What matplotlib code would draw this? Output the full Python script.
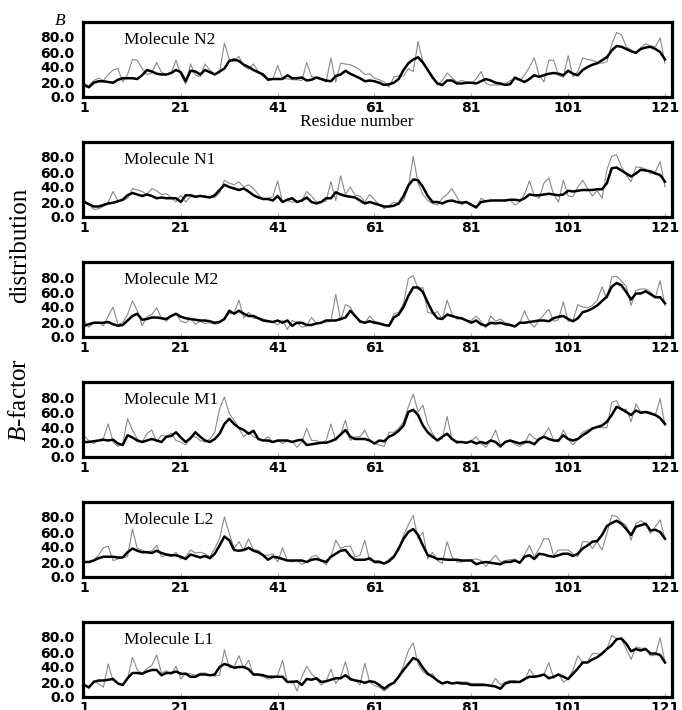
import numpy as np
import matplotlib
matplotlib.use('Agg')
import matplotlib.pyplot as plt

plt.rcParams['mathtext.fontset'] = 'custom'
plt.rcParams['mathtext.rm'] = 'Liberation Serif'
plt.rcParams['mathtext.it'] = 'Liberation Serif:italic'

residues = np.arange(1, 122)
xtick_vals = [1, 21, 41, 61, 81, 101, 121]
ytick_vals = [0, 20, 40, 60, 80]
ytick_labels = ['0.0', '20.0', '40.0', '60.0', '80.0']
molecules = ['N2', 'N1', 'M2', 'M1', 'L2', 'L1']

n2_main = [16, 13, 19, 21, 21, 20, 19, 23, 25, 25,
           25, 24, 29, 36, 34, 31, 30, 30, 32, 36,
           33, 21, 35, 34, 30, 36, 33, 30, 34, 38,
           48, 50, 48, 43, 40, 36, 33, 30, 23, 24,
           24, 24, 29, 25, 25, 26, 22, 23, 26, 24,
           22, 21, 28, 30, 35, 31, 28, 25, 21, 22,
           21, 19, 16, 17, 19, 24, 36, 45, 50, 53,
           46, 36, 26, 18, 16, 22, 22, 18, 18, 19,
           19, 18, 21, 24, 22, 19, 18, 16, 17, 26,
           23, 20, 24, 29, 27, 29, 31, 32, 31, 29,
           35, 31, 29, 36, 40, 43, 45, 49, 53, 62,
           68, 67, 64, 61, 59, 64, 66, 67, 64, 60,
           50]
n2_side = [18, 15, 22, 25, 22, 30, 36, 38, 20, 30,
           50, 49, 38, 30, 32, 46, 33, 30, 32, 49,
           30, 17, 44, 29, 27, 44, 36, 31, 32, 72,
           50, 47, 54, 41, 37, 44, 34, 27, 25, 24,
           42, 25, 24, 23, 23, 22, 46, 27, 26, 23,
           20, 52, 20, 45, 44, 43, 40, 36, 30, 31,
           25, 23, 20, 13, 27, 28, 28, 38, 34, 74,
           47, 36, 28, 16, 22, 32, 26, 20, 22, 20,
           18, 24, 34, 18, 16, 16, 16, 17, 22, 24,
           22, 29, 40, 52, 29, 20, 49, 49, 29, 26,
           55, 27, 34, 52, 50, 49, 46, 45, 47, 70,
           86, 83, 67, 63, 58, 66, 71, 68, 67, 79,
           45]

n1_main = [20, 17, 14, 14, 16, 18, 19, 21, 23, 29,
           32, 30, 28, 30, 28, 25, 26, 25, 25, 25,
           20, 29, 29, 27, 28, 27, 26, 29, 36, 43,
           40, 38, 36, 38, 34, 29, 26, 24, 24, 22,
           28, 20, 23, 25, 20, 22, 26, 20, 18, 20,
           25, 25, 33, 30, 28, 27, 26, 22, 18, 20,
           18, 16, 14, 14, 15, 18, 28, 42, 50, 49,
           40, 28, 20, 20, 18, 21, 22, 20, 19, 20,
           16, 13, 20, 21, 22, 22, 22, 22, 23, 23,
           22, 25, 30, 29, 29, 30, 31, 30, 29, 30,
           35, 34, 35, 36, 36, 36, 37, 37, 45, 65,
           66, 62, 58, 54, 58, 63, 62, 61, 58, 56,
           47]
n1_side = [22, 18, 10, 11, 14, 20, 34, 22, 22, 25,
           38, 36, 34, 30, 38, 35, 30, 31, 26, 20,
           29, 20, 27, 27, 29, 28, 26, 26, 32, 49,
           45, 43, 47, 40, 43, 38, 30, 23, 25, 27,
           48, 20, 22, 20, 20, 22, 34, 28, 20, 20,
           21, 47, 22, 55, 30, 40, 29, 28, 20, 30,
           23, 16, 11, 15, 20, 18, 22, 40, 81, 45,
           30, 22, 18, 16, 25, 30, 38, 27, 16, 20,
           18, 11, 25, 21, 22, 22, 22, 23, 23, 16,
           20, 30, 48, 29, 25, 45, 52, 30, 20, 49,
           28, 27, 40, 49, 38, 28, 35, 25, 63, 81,
           83, 67, 56, 47, 67, 66, 64, 58, 60, 74,
           40]

m2_main = [15, 17, 19, 19, 19, 20, 17, 15, 16, 22,
           28, 31, 23, 24, 26, 26, 25, 24, 28, 31,
           27, 25, 24, 23, 22, 22, 21, 19, 20, 24,
           35, 31, 35, 31, 28, 28, 25, 22, 21, 20,
           22, 19, 22, 15, 19, 19, 16, 16, 18, 19,
           22, 22, 22, 24, 26, 35, 28, 21, 19, 21,
           19, 18, 16, 15, 26, 30, 40, 55, 66, 66,
           60, 46, 33, 25, 24, 30, 28, 26, 25, 22,
           19, 22, 17, 15, 19, 18, 19, 17, 16, 14,
           19, 19, 20, 21, 22, 22, 21, 25, 27, 28,
           24, 21, 25, 33, 35, 38, 42, 48, 54, 67,
           72, 69, 60, 50, 58, 58, 61, 57, 53, 53,
           45]
m2_side = [22, 13, 19, 20, 15, 28, 40, 17, 19, 30,
           48, 35, 15, 27, 30, 39, 25, 21, 28, 31,
           21, 19, 24, 17, 21, 18, 19, 17, 19, 25,
           31, 32, 49, 25, 33, 25, 25, 24, 22, 20,
           16, 22, 10, 22, 19, 13, 15, 26, 18, 19,
           20, 21, 57, 22, 43, 40, 28, 19, 19, 28,
           21, 19, 17, 15, 31, 33, 45, 78, 82, 64,
           66, 33, 31, 34, 24, 49, 31, 24, 24, 22,
           22, 28, 21, 12, 28, 21, 24, 19, 17, 15,
           19, 35, 20, 13, 22, 30, 37, 21, 23, 47,
           21, 22, 43, 40, 39, 42, 49, 67, 51, 80,
           81, 75, 67, 42, 62, 64, 64, 60, 53, 75,
           42]

m1_main = [20, 20, 21, 22, 23, 22, 23, 18, 16, 29,
           26, 22, 20, 22, 24, 22, 20, 27, 28, 33,
           26, 20, 25, 33, 27, 22, 20, 24, 31, 44,
           51, 44, 39, 36, 31, 35, 24, 22, 22, 20,
           22, 22, 22, 20, 22, 23, 16, 17, 18, 19,
           19, 21, 24, 30, 36, 27, 24, 24, 24, 22,
           18, 22, 21, 27, 30, 35, 42, 60, 63, 56,
           42, 33, 27, 22, 27, 31, 24, 20, 20, 19,
           21, 18, 20, 18, 22, 20, 14, 20, 22, 20,
           18, 20, 20, 17, 24, 27, 24, 22, 22, 29,
           24, 22, 24, 29, 33, 38, 40, 42, 47, 56,
           67, 64, 60, 56, 62, 59, 60, 58, 56, 52,
           44]
m1_side = [28, 22, 18, 22, 25, 44, 20, 14, 18, 51,
           36, 24, 20, 31, 36, 20, 29, 27, 32, 22,
           20, 16, 27, 27, 22, 20, 24, 33, 64, 80,
           58, 49, 38, 27, 33, 27, 24, 22, 27, 20,
           22, 18, 22, 21, 13, 20, 38, 22, 22, 18,
           22, 44, 22, 30, 49, 22, 27, 27, 36, 22,
           18, 16, 14, 33, 33, 38, 47, 67, 84, 60,
           69, 44, 31, 22, 24, 54, 24, 18, 20, 18,
           22, 27, 18, 13, 22, 36, 16, 20, 22, 17,
           14, 18, 31, 25, 22, 29, 39, 22, 20, 36,
           24, 16, 24, 33, 36, 38, 40, 39, 39, 73,
           75, 62, 64, 47, 71, 60, 61, 60, 56, 78,
           42]

l2_main = [20, 20, 22, 25, 27, 27, 27, 26, 26, 33,
           38, 35, 33, 33, 32, 35, 32, 30, 29, 29,
           27, 24, 30, 28, 26, 28, 25, 31, 42, 54,
           49, 36, 35, 36, 39, 35, 33, 29, 23, 27,
           26, 24, 22, 22, 22, 22, 20, 23, 24, 22,
           20, 27, 31, 35, 36, 28, 23, 23, 23, 25,
           20, 20, 18, 21, 27, 38, 51, 60, 64, 56,
           42, 29, 27, 24, 24, 23, 23, 23, 22, 22,
           22, 17, 19, 20, 19, 18, 17, 20, 20, 22,
           19, 27, 29, 24, 31, 30, 28, 27, 29, 31,
           31, 28, 31, 38, 42, 47, 48, 56, 68, 72,
           75, 71, 64, 56, 67, 69, 71, 62, 63, 60,
           51]
l2_side = [20, 20, 22, 29, 39, 41, 22, 24, 26, 27,
           64, 38, 36, 33, 35, 42, 27, 29, 27, 33,
           24, 27, 36, 32, 33, 31, 27, 38, 51, 80,
           58, 38, 47, 36, 51, 36, 36, 29, 29, 31,
           20, 39, 22, 20, 22, 17, 20, 27, 29, 22,
           16, 27, 49, 38, 41, 41, 27, 29, 49, 22,
           22, 22, 18, 24, 29, 36, 56, 70, 82, 51,
           60, 24, 33, 22, 18, 47, 27, 20, 20, 22,
           23, 24, 22, 14, 22, 29, 20, 22, 23, 24,
           18, 30, 42, 27, 38, 51, 51, 29, 36, 36,
           36, 31, 27, 47, 47, 38, 47, 36, 58, 82,
           81, 73, 69, 49, 71, 75, 71, 58, 67, 76,
           51]

l1_main = [16, 13, 20, 22, 22, 23, 24, 18, 16, 25,
           32, 32, 31, 34, 36, 36, 29, 32, 32, 34,
           31, 31, 27, 27, 30, 30, 29, 30, 40, 44,
           42, 39, 40, 40, 37, 30, 30, 29, 27, 27,
           27, 27, 20, 20, 21, 16, 24, 23, 25, 20,
           21, 23, 25, 25, 29, 24, 22, 21, 19, 21,
           20, 16, 11, 16, 19, 27, 36, 44, 52, 49,
           39, 31, 27, 22, 18, 20, 18, 19, 18, 18,
           16, 16, 16, 16, 15, 14, 11, 18, 20, 20,
           20, 24, 27, 27, 28, 30, 25, 27, 30, 27,
           24, 31, 38, 46, 46, 50, 53, 58, 64, 69,
           77, 78, 71, 61, 64, 62, 64, 58, 58, 56,
           46]
l1_side = [18, 11, 22, 18, 13, 44, 22, 18, 16, 24,
           53, 36, 31, 38, 42, 56, 32, 35, 30, 41,
           24, 32, 31, 29, 32, 32, 29, 28, 29, 63,
           39, 40, 55, 38, 49, 29, 29, 27, 24, 25,
           29, 49, 20, 22, 8, 27, 41, 31, 24, 16,
           21, 37, 18, 27, 47, 22, 23, 16, 45, 20,
           15, 13, 8, 13, 20, 27, 42, 62, 72, 44,
           34, 29, 31, 20, 18, 21, 18, 20, 20, 20,
           18, 18, 18, 17, 14, 25, 16, 20, 22, 22,
           20, 22, 37, 28, 29, 30, 46, 25, 31, 20,
           24, 36, 55, 46, 47, 58, 58, 56, 64, 82,
           78, 77, 64, 50, 67, 65, 65, 55, 56, 79,
           46]

main_series = [n2_main, n1_main, m2_main, m1_main, l2_main, l1_main]
side_series = [n2_side, n1_side, m2_side, m1_side, l2_side, l1_side]

W, H = 682, 710
fig = plt.figure(figsize=(W / 100, H / 100), dpi=100)

tick_font = dict(family='DejaVu Sans', weight='bold', size=10)

for i, name in enumerate(molecules):
    top = 22 + 120 * i
    ax = fig.add_axes([83 / W, 1 - (top + 75) / H, 589 / W, 75 / H])
    ax.plot(residues, side_series[i], color='#8a8a8a', lw=0.8, zorder=2)
    ax.plot(residues, main_series[i], color='black', lw=1.8, zorder=3,
            solid_joinstyle='round')
    ax.set_xlim(0.79, 122.45)
    ax.set_ylim(0, 100)
    ax.set_yticks(ytick_vals)
    ax.set_yticklabels(ytick_labels, fontdict=tick_font)
    ax.set_xticks(xtick_vals)
    ax.set_xticklabels([str(v) for v in xtick_vals], fontdict=tick_font)
    for s in ax.spines.values():
        s.set_linewidth(2.3)
        s.set_color('black')
    ax.tick_params(axis='y', length=0, pad=6)
    ax.tick_params(axis='x', direction='in', length=3, width=0.8,
                   color='#b0b0b0', pad=3)
    ax.text(0.07, 0.76, f'Molecule {name}', transform=ax.transAxes,
            fontfamily='Liberation Serif', fontsize=12.5, va='center', ha='left')

fig.text(357 / W, 1 - 122 / H, 'Residue number', fontfamily='Liberation Serif',
         fontsize=12.5, ha='center', va='center')
fig.text(60 / W, 1 - 21 / H, r'$B$', fontfamily='Liberation Serif',
         fontsize=12.5, ha='center', va='center')
fig.text(20 / W, 1 - 245 / H, 'distribution',
         fontfamily='Liberation Serif', fontsize=18, rotation=90,
         ha='center', va='center')
fig.text(20 / W, 1 - 400 / H, r'$B$-factor',
         fontfamily='Liberation Serif', fontsize=18, rotation=90,
         ha='center', va='center')

fig.savefig('out.png', dpi=100)
